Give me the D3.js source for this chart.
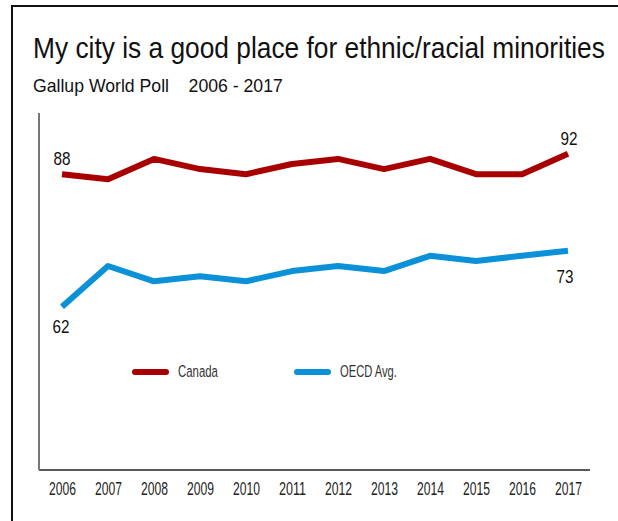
<!DOCTYPE html>
<html>
<head>
<meta charset="utf-8">
<script src="https://cdn.jsdelivr.net/npm/d3@7"></script>
<style>
  html, body { margin: 0; padding: 0; background: #fff; }
  svg { display: block; }
</style>
</head>
<body>
<svg id="chart" width="618" height="521"></svg>
<script>
const years = [2006, 2007, 2008, 2009, 2010, 2011, 2012, 2013, 2014, 2015, 2016, 2017];
const canada = [88, 87, 91, 89, 88, 90, 91, 89, 91, 88, 88, 92];
const oecd = [62, 70, 67, 68, 67, 69, 70, 69, 72, 71, 72, 73];
const seriesNames = ["Canada", "OECD Avg."];
const seriesColors = ["#a80000", "#0a91d8"];
const titleText = "My city is a good place for ethnic/racial minorities";
const subtitleText = "Gallup World Poll    2006 - 2017";

const svg = d3.select("#chart");
const font = "'Liberation Sans', Arial, sans-serif";

// squeeze a text horizontally to a given width (the original uses narrow faces)
function squeeze(sel, w) {
  sel.each(function () {
    const len = this.getComputedTextLength();
    if (!len) return;
    const s = Math.min(1, w / len);
    const tx = +(this.getAttribute("x") || 0);
    const ty = +(this.getAttribute("y") || 0);
    this.setAttribute("transform",
      `translate(${tx},${ty}) scale(${s},1) translate(${-tx},${-ty})`);
  });
}

// frame
svg.append("line").attr("x1", 12).attr("x2", 12).attr("y1", 5).attr("y2", 521)
  .attr("stroke", "#111").attr("stroke-width", 2);
svg.append("line").attr("x1", 11).attr("x2", 618).attr("y1", 6).attr("y2", 6)
  .attr("stroke", "#111").attr("stroke-width", 2);

svg.append("text").attr("x", 33).attr("y", 58)
  .attr("font-family", font).attr("font-size", 29).attr("fill", "#111")
  .text(titleText).call(squeeze, 572);
svg.append("text").attr("x", 33).attr("y", 92)
  .style("white-space", "pre")
  .attr("font-family", font).attr("font-size", 19).attr("fill", "#111")
  .text(subtitleText).call(squeeze, 250);

const x = d3.scalePoint().domain(years).range([62, 568]);
const y = d3.scaleLinear().domain([30, 100]).range([470, 113]);

// axes
const xAxis = svg.append("g").attr("transform", "translate(0,470)")
  .call(d3.axisBottom(x).tickSize(0).tickPadding(11).tickFormat(d3.format("d")));
xAxis.select(".domain").remove();
xAxis.selectAll("text").attr("font-family", font).attr("font-size", 19)
  .attr("fill", "#222").attr("dy", "0.72em").call(squeeze, 27);
svg.append("line").attr("x1", 39).attr("x2", 590).attr("y1", y(30)).attr("y2", y(30))
  .attr("stroke", "#222").attr("stroke-width", 1.5);
svg.append("line").attr("x1", 39).attr("x2", 39).attr("y1", y(100)).attr("y2", y(30))
  .attr("stroke", "#777").attr("stroke-width", 2);

const line = d3.line().x((d, i) => x(years[i])).y(d => y(d));
[canada, oecd].forEach((vals, k) => {
  svg.append("path").datum(vals).attr("d", line)
    .attr("fill", "none").attr("stroke", seriesColors[k])
    .attr("stroke-width", 6).attr("stroke-linejoin", "round");
});

// end labels
const lab = (txt, xx, yy) => svg.append("text").attr("x", xx).attr("y", yy)
  .attr("text-anchor", "middle").attr("font-family", font).attr("font-size", 19)
  .attr("fill", "#111").text(txt).call(squeeze, 17);
lab(canada[0], x(years[0]), y(canada[0]) - 9);
lab(oecd[0], x(years[0]) - 1, y(oecd[0]) + 26);
lab(canada[11], x(years[11]) + 1, y(canada[11]) - 9);
lab(oecd[11], x(years[11]) - 3, y(oecd[11]) + 32);

// legend
const legX = [135, 297];
const legW = [40, 57];
seriesNames.forEach((n, k) => {
  svg.append("line").attr("x1", legX[k]).attr("x2", legX[k] + 31)
    .attr("y1", 372).attr("y2", 372).attr("stroke", seriesColors[k])
    .attr("stroke-width", 6).attr("stroke-linecap", "round");
  svg.append("text").attr("x", legX[k] + 43).attr("y", 377)
    .attr("font-family", font).attr("font-size", 17).attr("fill", "#333")
    .text(n).call(squeeze, legW[k]);
});
</script>
</body>
</html>
